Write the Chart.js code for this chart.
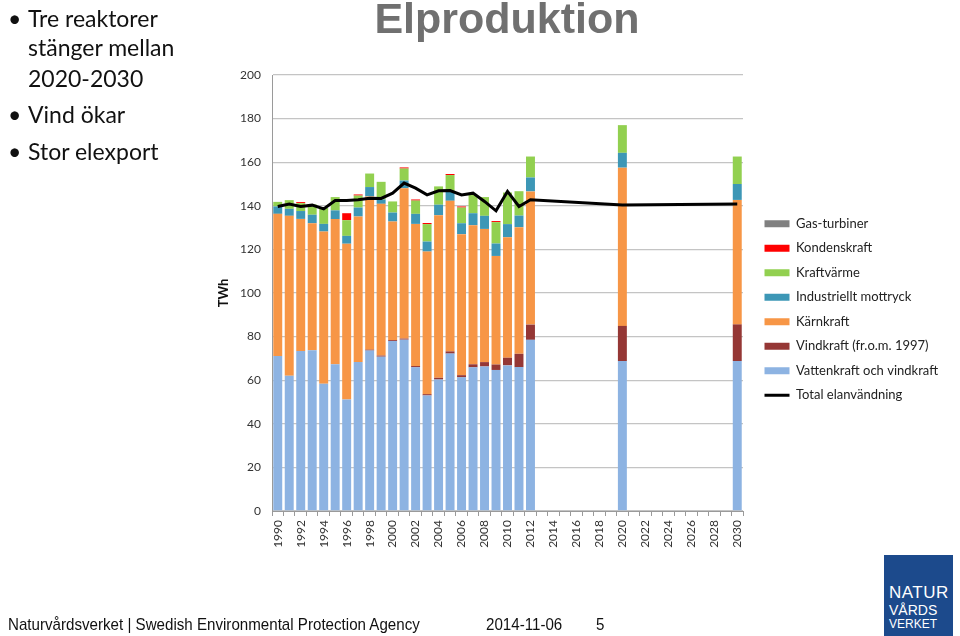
<!DOCTYPE html>
<html>
<head>
<meta charset="utf-8">
<script src="https://cdn.jsdelivr.net/npm/chart.js@4.4.1/dist/chart.umd.min.js"></script>
<style>
  html, body { margin: 0; padding: 0; background: #fff; }
  #wrap { position: relative; width: 960px; height: 636px; overflow: hidden; }
  #chartBox { position: absolute; left: 0; top: 0; width: 960px; height: 636px; }
  .txt { position: absolute; white-space: nowrap; }
  .bul { font-family: Lato, "Open Sans", sans-serif; font-size: 23px; line-height: 30px; color: #111; }
  #title { left: 357px; width: 300px; top: -6px; text-align: center; font: bold 43px "Liberation Sans", Arial, sans-serif; color: #707070; }
  .foot { font-family: "Liberation Sans", Arial, sans-serif; font-size: 17px; color: #111; top: 615px; transform: scaleX(0.89); transform-origin: left top; }
  #logo { position: absolute; left: 884px; top: 555px; width: 69px; height: 81px; background: #1c4a8c; color: #fff; font-family: "Liberation Sans", Arial, sans-serif; }
  #logo div { position: absolute; left: 5px; white-space: nowrap; }
</style>
</head>
<body>
<div id="wrap">
  <div id="chartBox"><canvas id="elChart"></canvas></div>

  <div class="txt" id="title">Elproduktion</div>

  <div class="txt bul" style="left:8px;top:3px;">•</div>
  <div class="txt bul" style="left:28px;top:3px;">Tre reaktorer</div>
  <div class="txt bul" style="left:28px;top:32px;">stänger mellan</div>
  <div class="txt bul" style="left:28px;top:63px;">2020-2030</div>
  <div class="txt bul" style="left:8px;top:99px;">•</div>
  <div class="txt bul" style="left:28px;top:99px;">Vind ökar</div>
  <div class="txt bul" style="left:8px;top:136px;">•</div>
  <div class="txt bul" style="left:28px;top:136px;">Stor elexport</div>

  <div class="txt foot" style="left:8px;">Naturvårdsverket | Swedish Environmental Protection Agency</div>
  <div class="txt foot" style="left:486px;">2014-11-06</div>
  <div class="txt foot" style="left:596px;">5</div>

  <div id="logo">
    <div style="top:28px;font-size:17px;letter-spacing:0.5px;">NATUR</div>
    <div style="top:47px;font-size:14px;">VÅRDS</div>
    <div style="top:62px;font-size:12px;">VERKET</div>
  </div>
</div>

<script>
const years = [];
for (let y = 1990; y <= 2030; y++) years.push(String(y));

// TWh per year, 1990-2012 then 2020 and 2030 (null = no bar)
const gap7 = [null, null, null, null, null, null, null];
const gap9 = [null, null, null, null, null, null, null, null, null];

const vattenkraft = [71.1, 62.0, 73.4, 73.7, 58.4, 67.3, 51.2, 68.3, 73.6, 70.8,
  78.0, 78.6, 65.9, 53.0, 60.3, 72.2, 61.3, 65.9, 66.3, 64.7, 66.8, 66.0, 78.5,
  ...gap7, 68.8, ...gap9, 68.8];
const vindkraft = [0, 0, 0, 0, 0, 0, 0, 0, 0.4, 0.5,
  0.4, 0.5, 0.6, 0.6, 0.8, 1.0, 1.0, 1.4, 2.0, 2.5, 3.5, 6.1, 7.0,
  ...gap7, 16.1, ...gap9, 16.8];
const karnkraft = [65.2, 73.4, 60.6, 58.3, 69.8, 66.6, 71.4, 66.8, 70.3, 69.6,
  54.4, 69.0, 65.2, 65.4, 74.6, 69.1, 64.7, 63.8, 61.1, 49.8, 55.3, 58.1, 61.1,
  ...gap7, 72.6, ...gap9, 57.1];
const mottryck = [3.4, 3.2, 3.6, 3.9, 3.5, 4.0, 3.6, 4.1, 4.3, 2.0,
  4.1, 3.5, 4.6, 4.6, 4.8, 4.3, 5.0, 5.5, 6.0, 5.7, 6.0, 5.3, 6.4,
  ...gap7, 6.8, ...gap9, 7.3];
const kraftvarme = [2.1, 4.0, 3.6, 4.7, 7.3, 6.1, 7.2, 5.5, 6.2, 8.1,
  5.1, 5.5, 6.1, 8.0, 8.4, 7.5, 7.2, 8.4, 8.6, 9.8, 14.5, 11.2, 9.6,
  ...gap7, 12.7, ...gap9, 12.6];
const kondens = [0, 0, 0.5, 0, 0, 0, 3.2, 0.5, 0, 0,
  0, 0.5, 0.5, 0.5, 0, 0.5, 0.5, 0, 0, 0.5, 0, 0, 0,
  ...gap7, 0, ...gap9, 0];
const gasturbiner = [0, 0, 0, 0, 0, 0, 0, 0, 0, 0,
  0, 0, 0, 0, 0, 0, 0, 0, 0, 0, 0, 0, 0,
  ...gap7, 0, ...gap9, 0];
const elanvandning = [139.7, 140.8, 139.7, 140.3, 138.6, 142.4, 142.4, 142.8, 143.5, 143.4,
  145.8, 150.4, 148.1, 145.0, 146.9, 147.0, 145.0, 145.8, 142.0, 137.7, 146.6, 139.7, 142.8,
  ...gap7, 140.4, ...gap9, 140.8];

const fontName = 'Lato, "Open Sans", sans-serif';

function barSet(label, data, color) {
    return {
        type: 'bar',
        label: label,
        data: data,
        backgroundColor: color,
        borderWidth: 0,
        stack: 'prod',
        order: 1,
        pointStyle: 'rect',
        barPercentage: 0.78,
        categoryPercentage: 1.0
    };
}

// legend sits a bit away from the plot, like the slide
const legendNudge = {
    id: 'legendNudge',
    beforeUpdate(chart) {
        const lg = chart.legend;
        if (lg && !lg._patched) {
            const fit = lg.fit;
            lg.fit = function () { fit.call(this); this.width = 195; };
            lg._patched = true;
        }
    },
    afterLayout(chart) {
        const lg = chart.legend;
        lg.left += 10; lg.right += 10;
        lg.top -= 3; lg.bottom -= 3;
    }
};

new Chart(document.getElementById('elChart').getContext('2d'), {
    data: {
        labels: years,
        datasets: [
            barSet('Vattenkraft och vindkraft', vattenkraft, '#8db3e2'),
            barSet('Vindkraft (fr.o.m. 1997)', vindkraft, '#953735'),
            barSet('Kärnkraft', karnkraft, '#f79646'),
            barSet('Industriellt mottryck', mottryck, '#3d97b6'),
            barSet('Kraftvärme', kraftvarme, '#92d050'),
            barSet('Kondenskraft', kondens, '#ff0000'),
            barSet('Gas-turbiner', gasturbiner, '#808080'),
            {
                type: 'line',
                label: 'Total elanvändning',
                data: elanvandning,
                borderColor: '#000000',
                backgroundColor: '#000000',
                borderWidth: 3,
                pointRadius: 0,
                spanGaps: true,
                tension: 0,
                stack: 'use',
                order: 0,
                pointStyle: 'line'
            }
        ]
    },
    options: {
        responsive: true,
        maintainAspectRatio: false,
        animation: false,
        layout: {
            padding: { left: 212, right: 22, top: 75, bottom: 86 }
        },
        plugins: {
            title: { display: false },
            tooltip: { enabled: false },
            legend: {
                position: 'right',
                align: 'center',
                labels: {
                    usePointStyle: true,
                    pointStyleWidth: 25,
                    boxHeight: 7,
                    padding: 11.5,
                    color: '#222',
                    font: { family: fontName, size: 13 },
                    sort: (a, b) => {
                        const rank = i => (i === 7 ? 100 : -i);
                        return rank(a.datasetIndex) - rank(b.datasetIndex);
                    }
                }
            }
        },
        scales: {
            x: {
                stacked: true,
                afterFit: s => { s.height = 39; },
                grid: {
                    drawOnChartArea: false,
                    drawTicks: true,
                    tickLength: 5,
                    color: '#9a9a9a'
                },
                border: { color: '#9a9a9a', width: 1 },
                ticks: {
                    autoSkip: false,
                    minRotation: 90,
                    maxRotation: 90,
                    padding: 4,
                    color: '#333',
                    font: { family: fontName, size: 12 },
                    callback: function (val, i) {
                        const lab = this.getLabelForValue(val);
                        return Number(lab) % 2 === 0 ? lab : '';
                    }
                }
            },
            y: {
                stacked: true,
                min: 0,
                max: 200,
                afterFit: s => { s.width = 60; },
                grid: { color: '#c4c4c4', lineWidth: 1.3, drawTicks: false },
                border: { color: '#9a9a9a', width: 1 },
                ticks: {
                    stepSize: 20,
                    padding: 11,
                    color: '#333',
                    font: { family: fontName, size: 12 }
                },
                title: {
                    display: true,
                    text: 'TWh',
                    color: '#111',
                    padding: { top: 4, bottom: 0 },
                    font: { family: fontName, size: 13, weight: 'bold' }
                }
            }
        }
    },
    plugins: [legendNudge]
});
</script>
</body>
</html>
